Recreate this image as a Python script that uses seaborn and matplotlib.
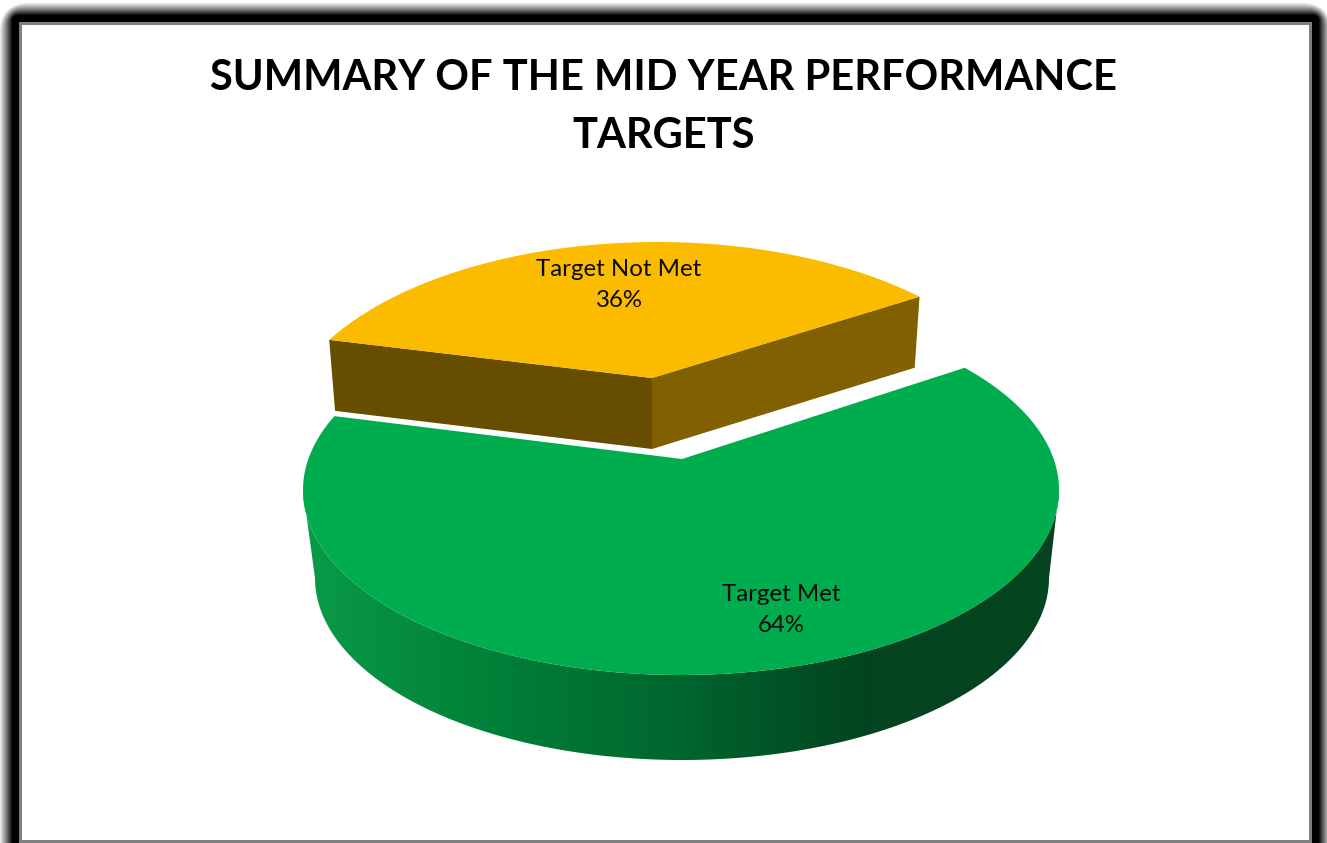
"""
Resumen de metas de medio ano - pastel 3D
"""
import numpy as np
import seaborn as sns
import matplotlib
matplotlib.use("Agg")
import matplotlib.pyplot as plt
from matplotlib.patches import FancyBboxPatch, Rectangle, Polygon

# datos
categories = ["Target Met", "Target Not Met"]
shares = [64, 36]
title = "SUMMARY OF THE MID YEAR PERFORMANCE\nTARGETS"

# colores
green = "#00AD4E"
orange = "#FBBC00"
orange_left = "#664D00"
orange_right = "#806000"
wall_stops = ["#0A9A4A", "#008038", "#00652E", "#03431F", "#03451F"]

sns.set_theme(style="white")
plt.rcParams["font.family"] = ["Lato", "DejaVu Sans"]

fig, ax = plt.subplots(figsize=(13.27, 8.43), dpi=100)
ax.set_position([0, 0, 1, 1])
ax.axis("off")

# marco con sombra
left, top, right, bottom = 22, 25, 1309, 900
for d in np.arange(24, 3, -0.5):
    t = np.clip((d - 10) / 13, 0, 1)
    grey = str(round(float(t ** 0.9), 3))
    ax.add_patch(FancyBboxPatch((left - d, top - d), right - left + 2 * d, bottom - top + 2 * d,
                                boxstyle="round,pad=0,rounding_size=%f" % max(d * 2 - 14, 1),
                                fc=grey, ec="none", zorder=1))
ax.add_patch(Rectangle((left - 3, top - 3), right - left + 6, bottom - top, fc="#808080", ec="none", zorder=2))
ax.add_patch(Rectangle((left, top), right - left, 840 - top, fc="white", ec="none", zorder=3))


def ray_end(apex, ell, deg):
    # punto donde el radio del pastel corta la elipse
    cx, cy, rx, ry = ell
    px, py = (apex[0] - cx) / rx, (cy - apex[1]) / ry
    dx, dy = np.cos(np.radians(deg)), np.sin(np.radians(deg))
    b = px * dx + py * dy
    s = -b + np.sqrt(b * b - (px * px + py * py - 1))
    u, v = px + s * dx, py + s * dy
    return np.degrees(np.arctan2(v, u))


def arc(ell, t0, t1, n=200):
    cx, cy, rx, ry = ell
    t = np.radians(np.linspace(t0, t1, n))
    return cx + rx * np.cos(t), cy - ry * np.sin(t)


# --- rebanada de atras (Target Not Met)
back_apex = (652, 378)
back_ell = (657, 437, 378, 195)
back_start = 30.5
back_sweep = 360 * shares[1] / sum(shares) * 1.054
t0 = ray_end(back_apex, back_ell, back_start)
t1 = ray_end(back_apex, back_ell, back_start + back_sweep)
xs, ys = arc(back_ell, t0, t1)

drop = 71
shrink = 0.982
x_l, y_l = xs[-1], ys[-1]
x_r, y_r = xs[0], ys[0]
ax_, ay_ = back_apex
low = lambda x, y: (ax_ + (x - ax_) * shrink, y + drop)

ax.fill([x_l, ax_, low(ax_, ay_)[0], low(x_l, y_l)[0]], [y_l, ay_, low(ax_, ay_)[1], low(x_l, y_l)[1]],
        color=orange_left, lw=0, zorder=4)
ax.fill([ax_, x_r, low(x_r, y_r)[0], low(ax_, ay_)[0]], [ay_, y_r, low(x_r, y_r)[1], low(ax_, ay_)[1]],
        color=orange_right, lw=0, zorder=4)
ax.fill(np.r_[ax_, xs], np.r_[ay_, ys], color=orange, lw=0, zorder=5)

# --- rebanada de adelante (Target Met)
front_apex = (682, 459)
front_ell = (681, 490, 378, 185)
base_ell = (682, 578, 367, 182)
front_start = 33.4
front_gap = 360 * shares[1] / sum(shares) * 1.022

# pared con degradado, de izquierda a derecha
xa, ya = arc(front_ell, 180, 360)
xb, yb = arc(base_ell, 360, 180)
wall_shape = Polygon(np.c_[np.r_[xa, xb], np.r_[ya, yb]], closed=True, fc="none", ec="none",
                     transform=ax.transData)
ax.add_patch(wall_shape)
wall_cmap = sns.blend_palette(wall_stops, as_cmap=True)
img = ax.imshow(np.linspace(0, 1, 757)[None, :], extent=(303, 1060, 770, 480), aspect="auto",
                cmap=wall_cmap, zorder=6)
img.set_clip_path(wall_shape)

t0 = ray_end(front_apex, front_ell, front_start + front_gap)
t1 = ray_end(front_apex, front_ell, front_start) + 360
xs, ys = arc(front_ell, t0, t1, 400)
ax.fill(np.r_[front_apex[0], xs], np.r_[front_apex[1], ys], color=green, lw=0, zorder=7)

# textos
ax.text(664, 107, title, ha="center", va="center", fontsize=30, fontweight="bold",
        color="black", linespacing=1.62, zorder=9)
ax.text(781, 610, "%s\n%d%%" % (categories[0], shares[0]), ha="center", va="center",
        fontsize=17.3, color="#0A0A0A", linespacing=1.6, zorder=9)
ax.text(619, 285, "%s\n%d%%" % (categories[1], shares[1]), ha="center", va="center",
        fontsize=17.3, color="#0A0A0A", linespacing=1.6, zorder=9)

ax.set_xlim(0, 1327)
ax.set_ylim(843, 0)

fig.savefig("out.png", dpi=100)
